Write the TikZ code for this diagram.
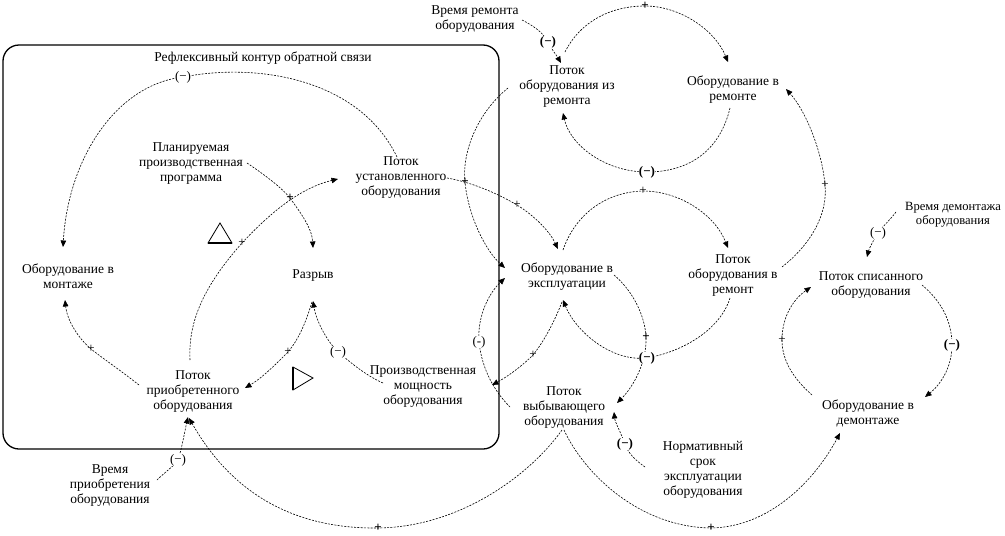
\documentclass[tikz,border=0pt]{standalone}
\usepackage{fontspec}
\setmainfont{Liberation Serif}
\usetikzlibrary{arrows.meta}
\begin{document}
\begin{tikzpicture}[x=1pt,y=-1pt,
  txt/.style={align=center, inner sep=0pt, font=\fontsize{13.5}{15}\selectfont},
  conn/.style={line width=0.6pt, dash pattern=on 2pt off 1.3pt, -{Triangle[length=6.5pt,width=5.5pt]}},
  sgn/.style={inner sep=0.3pt, font=\fontsize{13}{13}\selectfont},
  sgnb/.style={sgn, font=\fontsize{13}{13}\selectfont\bfseries},
  msgn/.style={sgn, fill=white},
  msgnb/.style={sgnb, fill=white},
  frame/.style={line width=1.3pt, rounded corners=16pt},
  tri/.style={line width=0.8pt, line join=miter},
  trib/.style={line width=1.6pt}
]
\useasboundingbox (0,0) rectangle (1005,536);

% frame of the reflexive loop
\draw[frame] (3,45) rectangle (499,449);

% nodes
\node[txt] (title)   at (263,58)  {Рефлексивный контур обратной связи};
\node[txt] (vremRem) at (475,19)  {Время ремонта\\оборудования};
\node[txt] (potIz)   at (567,87)  {Поток\\оборудования из\\ремонта};
\node[txt] (obRem)   at (733,90)  {Оборудование в\\ремонте};
\node[txt] (potU)    at (401,178) {Поток\\установленного\\оборудования};
\node[txt] (plan)    at (191,164) {Планируемая\\производственная\\программа};
\node[txt] (montazh) at (68,276)  {Оборудование в\\монтаже};
\node[txt] (razryv)  at (313,276) {Разрыв};
\node[txt] (potPr)   at (193,392) {Поток\\приобретенного\\оборудования};
\node[txt] (moshch)  at (423,387) {Производственная\\мощность\\оборудования};
\node[txt] (vremPr)  at (110,486) {Время\\приобретения\\оборудования};
\node[txt] (ekspl)   at (567,277) {Оборудование в\\эксплуатации};
\node[txt] (potV)    at (733,276) {Поток\\оборудования в\\ремонт};
\node[txt] (potVyb)  at (564,408) {Поток\\выбывающего\\оборудования};
\node[txt] (norm)    at (703,470) {Нормативный\\срок\\эксплуатации\\оборудования};
\node[txt, font=\fontsize{12.6}{14}\selectfont] (vremD) at (953,215) {Время демонтажа\\оборудования};
\node[txt] (potS)    at (871,285) {Поток списанного\\оборудования};
\node[txt] (obD)     at (868,413) {Оборудование в\\демонтаже};

% label positions
\coordinate (m1) at (183,77);
\coordinate (m6) at (338,352);
\coordinate (m7) at (178,460);
\coordinate (m10) at (625,444);
\coordinate (m12) at (647,358);
\coordinate (m14) at (479,342);
\coordinate (m19) at (647,172);
\coordinate (m21) at (548,42);
\coordinate (m22) at (878,233);
\coordinate (m23) at (952,345);
\coordinate (p2) at (91,349);
\coordinate (p3) at (242,243);
\coordinate (p4) at (290,198);
\coordinate (p5) at (288,352);
\coordinate (p8) at (378,528);
\coordinate (p9) at (711,528);
\coordinate (p11) at (646,337);
\coordinate (p13) at (533,355);
\coordinate (p15) at (465,182);
\coordinate (p16) at (517,205);
\coordinate (p17) at (643,191);
\coordinate (p18) at (825,185);
\coordinate (p20) at (645,6);
\coordinate (p24) at (782,340);

% connectors
\draw[conn] ([shift={(-4,-21)}]potU.center) .. controls (360,80) and (260,62) .. (m1)
   .. controls (115,85) and (68,160) .. ([shift={(-5,-29)}]montazh.center);
\draw[conn] ([shift={(-54,-7)}]potPr.center) .. controls (120,370) and (105,360) .. (p2)
   .. controls (78,338) and (67,320) .. ([shift={(-3,24)}]montazh.center);
\draw[conn] ([shift={(-3,-32)}]potPr.center) .. controls (188,320) and (205,285) .. (p3)
   .. controls (270,213) and (300,188) .. ([shift={(-63,1)}]potU.center);
\draw[conn] ([shift={(56,-1)}]plan.center) .. controls (265,175) and (282,188) .. (p4)
   .. controls (300,212) and (312,228) .. ([shift={(0,-28)}]razryv.center);
\draw[conn] ([shift={(-1,26)}]razryv.center) .. controls (305,325) and (298,340) .. (p5)
   .. controls (275,365) and (262,378) .. ([shift={(52,-4)}]potPr.center);
\draw[conn] ([shift={(-40,-4)}]moshch.center) .. controls (365,375) and (350,362) .. (m6)
   .. controls (326,340) and (316,320) .. ([shift={(0,25)}]razryv.center);
\draw[conn] ([shift={(47,-6)}]vremPr.center) .. controls (165,472) and (173,467) .. (m7)
   .. controls (182,448) and (185,430) .. ([shift={(-5,25)}]potPr.center);
\draw[conn] ([shift={(-2,22)}]potVyb.center) .. controls (530,475) and (460,527) .. (p8)
   .. controls (290,529) and (230,490) .. ([shift={(-4,26)}]potPr.center);
\draw[conn] ([shift={(0,22)}]potVyb.center) .. controls (585,475) and (640,527) .. (p9)
   .. controls (770,527) and (815,480) .. ([shift={(-28,20)}]obD.center);
\draw[conn] ([shift={(-58,-3)}]norm.center) .. controls (635,460) and (628,453) .. (m10)
   .. controls (621,433) and (615,422) .. ([shift={(50,4)}]potVyb.center);
\draw[conn] ([shift={(47,-2)}]ekspl.center) .. controls (632,290) and (645,315) .. (p11)
   .. controls (647,360) and (635,385) .. ([shift={(53,-5)}]potVyb.center);
\draw[conn] ([shift={(-3,22)}]potV.center) .. controls (722,325) and (690,350) .. (m12)
   .. controls (610,362) and (575,330) .. ([shift={(-4,23)}]ekspl.center);
\draw[conn] ([shift={(-5,25)}]ekspl.center) .. controls (555,320) and (545,340) .. (p13)
   .. controls (520,368) and (505,378) .. ([shift={(69,-2)}]moshch.center);
\draw[conn] ([shift={(-54,-1)}]potVyb.center) .. controls (495,392) and (482,370) .. (m14)
   .. controls (477,315) and (490,292) .. ([shift={(-62,1)}]ekspl.center);
\draw[conn] ([shift={(-59,1)}]potIz.center) .. controls (475,115) and (462,155) .. (p15)
   .. controls (468,215) and (485,250) .. ([shift={(-62,-9)}]ekspl.center);
\draw[conn] ([shift={(46,0)}]potU.center) .. controls (470,182) and (495,192) .. (p16)
   .. controls (535,216) and (550,232) .. ([shift={(-9,-28)}]ekspl.center);
\draw[conn] ([shift={(-4,-27)}]ekspl.center) .. controls (575,215) and (605,192) .. (p17)
   .. controls (680,191) and (715,215) .. ([shift={(-5,-28)}]potV.center);
\draw[conn] ([shift={(49,-9)}]potV.center) .. controls (810,245) and (828,215) .. (p18)
   .. controls (822,150) and (805,110) .. ([shift={(53,-1)}]obRem.center);
\draw[conn] ([shift={(-3,18)}]obRem.center) .. controls (720,150) and (690,172) .. (m19)
   .. controls (605,172) and (570,145) .. ([shift={(-4,26)}]potIz.center);
\draw[conn] ([shift={(-2,-35)}]potIz.center) .. controls (580,22) and (610,6) .. (p20)
   .. controls (680,6) and (715,30) .. ([shift={(-5,-28)}]obRem.center);
\draw[conn] ([shift={(47,1)}]vremRem.center) .. controls (532,25) and (543,32) .. (m21)
   .. controls (552,50) and (557,56) .. ([shift={(-6,-24)}]potIz.center);
\draw[conn] ([shift={(-57,-3)}]vremD.center) .. controls (890,220) and (883,226) .. (m22)
   .. controls (873,241) and (869,249) .. ([shift={(-4,-28)}]potS.center);
\draw[conn] ([shift={(51,0)}]potS.center) .. controls (940,300) and (952,320) .. (m23)
   .. controls (952,368) and (940,385) .. ([shift={(57,-16)}]obD.center);
\draw[conn] ([shift={(-56,-18)}]obD.center) .. controls (795,380) and (782,362) .. (p24)
   .. controls (782,315) and (795,298) .. ([shift={(-60,2)}]potS.center);

% loop-type triangles
\draw[tri] (208,243) -- (232,243) -- (220,223) -- cycle;
\draw[trib] (208,243) -- (232,243);
\draw[tri] (293,367) -- (313,378) -- (293,390) -- cycle;
\draw[trib] (293,367) -- (293,390);

% polarity labels
\node[msgn]  (lm1)  at (m1)  {(−)};
\node[msgn]  (lm6)  at (m6)  {(−)};
\node[msgn]  (lm7)  at (m7)  {(−)};
\node[msgnb] (lm10) at (m10) {(−)};
\node[msgnb] (lm12) at (m12) {(−)};
\node[msgn]  (lm14) at (m14) {(-)};
\node[msgnb] (lm19) at (m19) {(−)};
\node[msgnb] (lm21) at (m21) {(−)};
\node[msgn]  (lm22) at (m22) {(−)};
\node[msgnb] (lm23) at (m23) {(−)};
\node[sgn]  (lp2)  at (p2)  {+};
\node[sgn]  (lp3)  at (p3)  {+};
\node[sgnb] (lp4)  at (p4)  {+};
\node[sgn]  (lp5)  at (p5)  {+};
\node[sgnb] (lp8)  at (p8)  {+};
\node[sgnb] (lp9)  at (p9)  {+};
\node[sgnb] (lp11) at (p11) {+};
\node[sgn]  (lp13) at (p13) {+};
\node[sgnb] (lp15) at (p15) {+};
\node[sgn]  (lp16) at (p16) {+};
\node[sgn]  (lp17) at (p17) {+};
\node[sgn]  (lp18) at (p18) {+};
\node[sgnb] (lp20) at (p20) {+};
\node[sgn]  (lp24) at (p24) {+};
\end{tikzpicture}
\end{document}
